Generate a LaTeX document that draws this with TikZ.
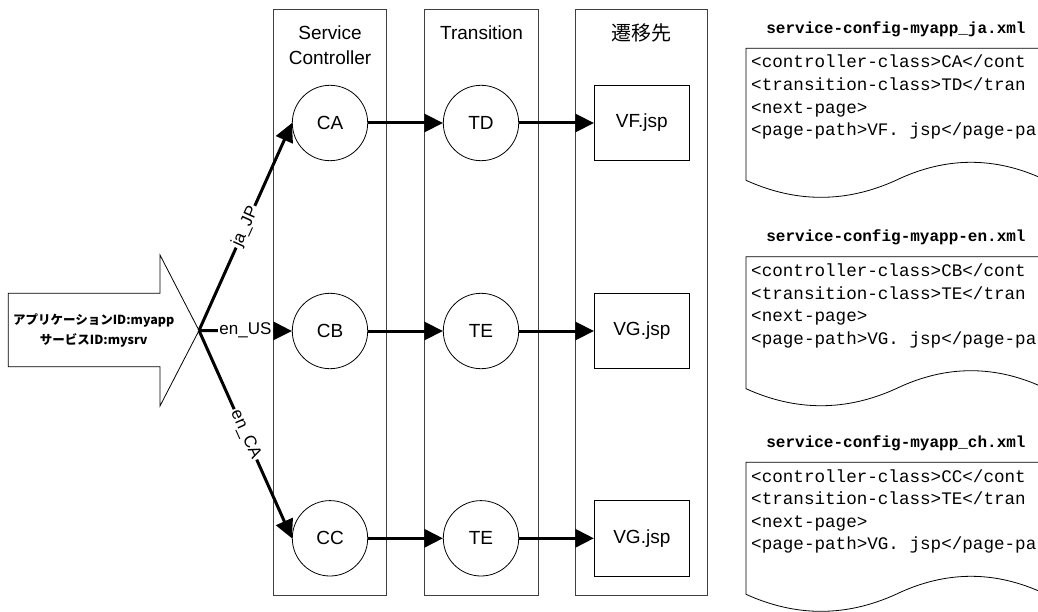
\documentclass[tikz,border=0pt]{standalone}
\usepackage{fontspec}
\setmainfont{Liberation Sans}
\newfontfamily\jp{Noto Sans CJK JP}
\newfontfamily\mono{Liberation Mono}
\usetikzlibrary{arrows.meta}
\begin{document}
\begin{tikzpicture}[x=1pt,y=-1pt,
  lane/.style={draw=black!75, line width=0.8pt},
  lanetitle/.style={align=center, inner sep=0pt, font=\fontsize{19}{25}\selectfont},
  ctrl/.style={circle, draw, line width=0.8pt, minimum size=75.4pt, inner sep=0pt, font=\fontsize{19}{22}\selectfont},
  pagebox/.style={draw, line width=0.8pt, minimum width=95pt, minimum height=75.7pt, inner sep=0pt, font=\fontsize{19}{22}\selectfont},
  flow/.style={line width=3pt, -{Triangle[length=18.5pt,width=18pt]}},
  lbl/.style={fill=white, inner sep=1.5pt, font=\fontsize{17}{20}\selectfont},
  docshape/.style={draw, line width=0.8pt},
  doctitle/.style={inner sep=0pt, font=\mono\bfseries\fontsize{16}{18}\selectfont},
  docline/.style={inner sep=0pt, anchor=base west, font=\mono\fontsize{17.6}{22.6}\selectfont},
  entry/.style={line width=0.8pt}
]
\useasboundingbox (0,0) rectangle (1038,612);
\clip (0,0) rectangle (1038,612);

% lanes
\draw[lane] (273.3,9.5) rectangle (386.7,595);
\draw[lane] (424.7,9.5) rectangle (538.3,595);
\draw[lane] (575.7,9.5) rectangle (707.7,595);
\node[lanetitle] (t1) at (330,45.5) {Service\\Controller};
\node[lanetitle] (t2) at (481.5,33) {Transition};
\node[lanetitle, font=\jp\fontsize{20}{24}\selectfont] (t3) at (641.7,33) {遷移先};

% entry arrow
\draw[entry] (8.3,293.3) -- (160,293.3) -- (160,255) -- (199,330.5) -- (160,406) -- (160,366.7) -- (8.3,366.7) -- cycle;
\coordinate (fan) at (199,330.5);
\node[align=center, inner sep=0pt, font=\jp\bfseries\fontsize{12.5}{20}\selectfont] (app) at (93.7,330) {アプリケーションID:myapp\\サービスID:mysrv};

% nodes
\node[ctrl] (CA) at (330,123) {CA};
\node[ctrl] (CB) at (330,331) {CB};
\node[ctrl] (CC) at (330,538.3) {CC};
\node[ctrl] (TD) at (481,123) {TD};
\node[ctrl] (TE1) at (481,331) {TE};
\node[ctrl] (TE2) at (481,538.3) {TE};
\node[pagebox] (VF) at (641.8,123) {VF.jsp};
\node[pagebox] (VG1) at (641.8,331) {VG.jsp};
\node[pagebox] (VG2) at (641.8,538.3) {VG.jsp};

% connectors
\draw[flow] (fan) -- node[lbl, sloped] {ja\_JP} (CA.west);
\draw[flow] (fan) -- node[lbl] {en\_US} (CB.west);
\draw[flow] (fan) -- node[lbl, sloped] {en\_CA} (CC.west);
\draw[flow] (CA) -- (TD);
\draw[flow] (CB) -- (TE1);
\draw[flow] (CC) -- (TE2);
\draw[flow] (TD) -- (VF);
\draw[flow] (TE1) -- (VG1);
\draw[flow] (TE2) -- (VG2);

% documents
\foreach \t/\tt/\name/\c/\tr/\pg in {48.3/29/service-config-myapp\_ja.xml/CA/TD/VF,
                                     256.7/237.5/service-config-myapp-en.xml/CB/TE/VG,
                                     462.3/443.5/service-config-myapp\_ch.xml/CC/TE/VG}{
  \draw[docshape] (1046,\t) -- (746,\t) -- (746,\t+132)
     .. controls (796,\t+154.7) and (846,\t+154.7) .. (896,\t+132)
     .. controls (946,\t+108) and (996,\t+108) .. (1046,\t+132) -- cycle;
  \node[doctitle] at (896,\tt) {\name};
  \node[docline] at (751,\t+19.7) {<controller-class>\c</cont};
  \node[docline] at (751,\t+42.3) {<transition-class>\tr</tran};
  \node[docline] at (751,\t+64.9) {<next-page>};
  \node[docline] at (751,\t+87.5) {<page-path>\pg. jsp</page-pa};
}
\end{tikzpicture}
\end{document}
